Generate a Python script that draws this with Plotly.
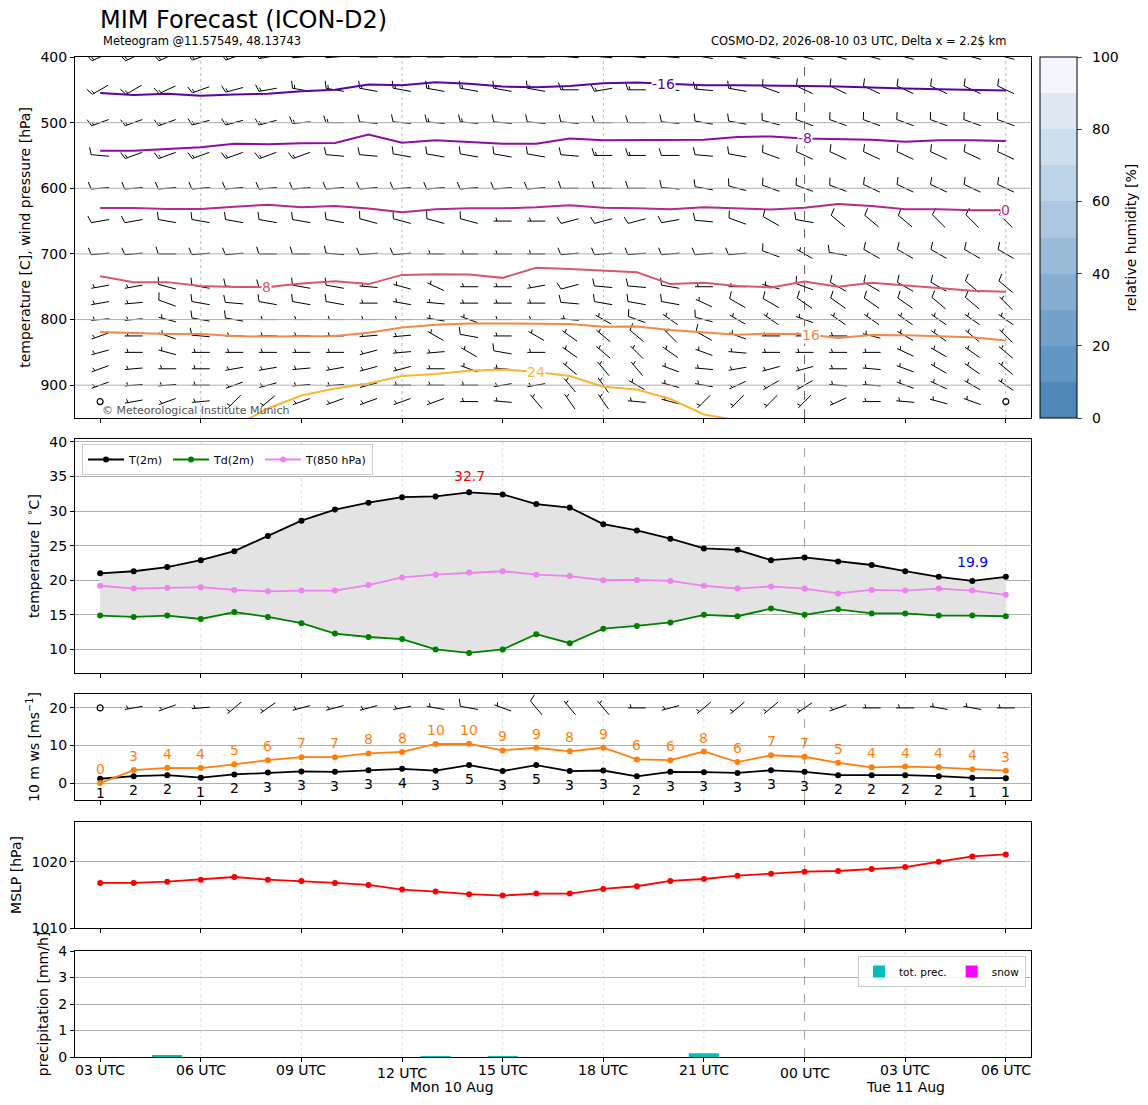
import numpy as np
import plotly.graph_objects as go

# ---------------- data ----------------
hours = list(range(28))  # 03 UTC Mon 10 Aug ... 06 UTC Tue 11 Aug
tick_hours = [0, 3, 6, 9, 12, 15, 18, 21, 24, 27]
tick_text = ["03 UTC", "06 UTC", "09 UTC", "12 UTC", "15 UTC", "18 UTC",
             "21 UTC", "00 UTC", "03 UTC", "06 UTC"]
major_tick_hours = [9, 21]
date_labels = ["Mon 10 Aug", "Tue 11 Aug"]
date_label_hours = [10.5, 24.0]

t2m = [21.0, 21.3, 21.9, 22.9, 24.2, 26.4, 28.6, 30.2, 31.2, 32.0, 32.1, 32.7, 32.4, 31.0,
       30.5, 28.1, 27.2, 26.0, 24.6, 24.4, 22.9, 23.3, 22.7, 22.2, 21.3, 20.5, 19.9, 20.5]
td2m = [14.9, 14.7, 14.9, 14.4, 15.4, 14.7, 13.8, 12.3, 11.8, 11.5, 10.0, 9.5, 10.0, 12.2,
        10.9, 13.0, 13.4, 13.9, 15.0, 14.8, 15.9, 15.0, 15.8, 15.2, 15.2, 14.9, 14.9, 14.8]
t850 = [19.2, 18.8, 18.9, 19.0, 18.6, 18.4, 18.5, 18.5, 19.3, 20.4, 20.8, 21.1, 21.3, 20.8,
        20.6, 20.0, 20.05, 19.9, 19.2, 18.8, 19.1, 18.8, 18.1, 18.6, 18.5, 18.8, 18.5, 17.9]

ws10 = [1.15, 1.85, 2.1, 1.45, 2.3, 2.8, 3.1, 3.0, 3.4, 3.8, 3.3, 4.8, 3.2, 4.8,
        3.2, 3.35, 1.8, 3.0, 2.9, 2.7, 3.4, 3.0, 2.1, 2.1, 2.1, 1.85, 1.4, 1.3]
gust10 = [0.0, 3.45, 4.05, 4.0, 5.0, 6.1, 6.9, 6.9, 7.9, 8.3, 10.4, 10.45, 8.7, 9.4,
          8.45, 9.4, 6.3, 6.1, 8.4, 5.6, 7.4, 7.0, 5.4, 4.2, 4.4, 4.2, 3.7, 3.3]
sfc_dir = [270, 260, 250, 265, 230, 235, 255, 255, 255, 260, 280, 280, 290, 320,
           320, 320, 270, 255, 230, 230, 230, 235, 250, 270, 270, 280, 280, 270]

mslp = [1016.8, 1016.8, 1017.0, 1017.3, 1017.7, 1017.3, 1017.1, 1016.8, 1016.5, 1015.8,
        1015.5, 1015.1, 1014.9, 1015.2, 1015.2, 1015.9, 1016.3, 1017.1, 1017.4, 1017.9,
        1018.2, 1018.5, 1018.6, 1018.9, 1019.2, 1020.0, 1020.8, 1021.1]

tot_prec = [0, 0, 0.04, 0, 0, 0, 0, 0, 0, 0, 0.03, 0, 0.03, 0,
            0, 0, 0, 0, 0.14, 0, 0, 0, 0, 0, 0, 0, 0, 0]
snow = [0, 0, 0, 0, 0, 0, 0, 0, 0, 0, 0, 0, 0, 0,
        0, 0, 0, 0, 0, 0, 0, 0, 0, 0, 0, 0, 0, 0]

# isotherm pressure levels [hPa] per hour
iso_levels = [-16, -8, 0, 8, 16, 24]
iso_m16 = [455, 458, 456, 459, 457, 456, 452, 450, 442, 443, 438.6, 440.6, 445, 446,
           444, 440, 439, 441, 443, 443, 443, 444, 445, 447, 448, 449, 450, 451]
iso_m8 = [543, 543, 540, 537.6, 532, 533, 531.5, 531, 518, 530.5, 527, 529, 532, 532,
          524, 527, 527, 526, 526, 522, 521, 524, 525, 526, 529, 527, 527, 528]
iso_0 = [630, 630, 631.5, 631.5, 628, 625, 629, 627, 631, 636.5, 632, 630.5, 630.5, 629,
         626, 629.5, 630.5, 632, 629, 631, 632.5, 629.5, 624, 627, 632, 632, 633.5, 633.5]
iso_8 = [734, 743, 743, 749, 750.5, 750.5, 745, 741.6, 746, 732, 731, 731.5, 736.5, 721,
         723, 726, 728, 746, 744, 749, 751, 742, 750, 744, 748, 753, 756, 757.5]
iso_16 = [819, 821, 822, 822, 825, 826, 825, 825, 820, 812, 808, 806, 806, 806,
          806.6, 811, 810.7, 816, 819, 823, 821.5, 822, 828, 823.6, 824, 825, 827, 832]
iso_24 = [None, None, None, None, 962.9, 935.5, 915.7, 905, 897.5, 886, 883, 878, 876, 880,
          886, 902.5, 906.6, 921, 944.7, 953.5, None, None, None, None, None, None, None, None]
iso_label_hours = [16.8, 21.0, 27.0, 4.96, 21.2, 13.0]

# wind barbs (direction deg, speed kt) on pressure levels
wind_levels = [400, 450, 500, 550, 600, 650, 700, 750, 775, 800, 825, 850, 875, 900, 925]
dir_400 = [245, 245, 245, 250, 250, 260, 265, 265, 270, 270, 270, 270, 270, 270,
           275, 275, 275, 275, 280, 280, 280, 285, 285, 285, 285, 285, 285, 285]
spd_400 = [20, 20, 20, 20, 20, 20, 20, 20, 20, 20, 20, 20, 20, 20,
           20, 20, 20, 20, 20, 20, 20, 20, 20, 20, 20, 20, 20, 20]
dir_450 = [240, 240, 245, 250, 255, 260, 280, 280, 280, 280, 280, 280, 280, 280,
           270, 260, 270, 275, 275, 280, 290, 295, 295, 295, 295, 295, 295, 295]
spd_450 = [15, 15, 15, 15, 15, 15, 15, 15, 15, 15, 15, 15, 15, 15,
           15, 15, 15, 15, 15, 15, 10, 10, 10, 10, 10, 10, 10, 10]
dir_500 = [250, 250, 250, 255, 255, 255, 265, 270, 275, 275, 275, 275, 275, 275,
           275, 270, 270, 275, 280, 280, 285, 290, 290, 290, 290, 290, 290, 290]
spd_500 = [15, 15, 15, 15, 15, 15, 15, 15, 10, 10, 15, 15, 10, 10,
           10, 10, 10, 10, 10, 10, 10, 10, 10, 10, 10, 10, 10, 10]
dir_550 = [275, 250, 250, 250, 250, 250, 250, 275, 275, 280, 280, 280, 280, 280,
           275, 270, 270, 270, 275, 280, 290, 295, 295, 295, 295, 295, 295, 295]
spd_550 = [10, 15, 15, 15, 15, 15, 15, 10, 10, 10, 10, 10, 10, 10,
           10, 15, 15, 10, 10, 10, 10, 10, 10, 10, 10, 10, 10, 10]
dir_600 = [265, 265, 265, 265, 265, 265, 265, 265, 265, 265, 265, 265, 265, 265,
           270, 270, 270, 275, 280, 285, 290, 290, 290, 295, 295, 295, 295, 295]
spd_600 = [10, 10, 10, 10, 10, 10, 10, 10, 10, 10, 10, 10, 10, 10,
           10, 10, 10, 10, 10, 10, 10, 10, 10, 10, 10, 10, 10, 10]
dir_650 = [260, 260, 280, 280, 280, 280, 280, 280, 285, 285, 285, 285, 270, 270,
           255, 255, 255, 260, 275, 290, 300, 280, 310, 310, 310, 315, 315, 315]
spd_650 = [10, 10, 10, 10, 10, 10, 10, 10, 10, 10, 10, 10, 5, 5,
           10, 10, 10, 10, 10, 10, 10, 10, 10, 10, 10, 10, 10, 10]
dir_700 = [265, 265, 270, 265, 265, 270, 270, 275, 265, 265, 270, 270, 270, 270,
           265, 265, 265, 265, 265, 265, 290, 300, 280, 300, 300, 300, 300, 300]
spd_700 = [10, 10, 10, 10, 10, 10, 10, 10, 10, 10, 5, 5, 5, 5,
           10, 10, 10, 10, 10, 10, 10, 5, 10, 10, 10, 10, 10, 10]
dir_750 = [260, 260, 285, 280, 275, 270, 280, 280, 275, 285, 295, 270, 270, 260,
           255, 275, 275, 280, 270, 270, 285, 290, 300, 300, 300, 300, 310, 310]
spd_750 = [5, 5, 10, 10, 10, 10, 10, 10, 5, 5, 5, 5, 5, 5,
           10, 10, 10, 10, 5, 5, 5, 10, 10, 10, 10, 10, 10, 10]
dir_775 = [260, 265, 290, 280, 275, 280, 280, 280, 270, 280, 275, 270, 270, 270,
           275, 280, 280, 280, 295, 300, 300, 305, 305, 305, 305, 310, 310, 315]
spd_775 = [5, 5, 10, 10, 10, 10, 10, 10, 5, 5, 5, 5, 5, 5,
           10, 10, 10, 10, 5, 10, 10, 10, 10, 10, 10, 10, 10, 5]
dir_800 = [265, 265, 285, 280, 280, 270, 270, 270, 270, 270, 280, 290, 270, 270,
           275, 300, 290, 305, 285, 300, 305, 290, 305, 305, 305, 305, 305, 305]
spd_800 = [5, 5, 5, 10, 10, 5, 5, 5, 5, 5, 5, 5, 5, 5,
           5, 5, 10, 5, 10, 5, 5, 5, 5, 5, 5, 5, 5, 5]
dir_825 = [250, 270, 290, 275, 270, 270, 270, 270, 265, 265, 300, 280, 270, 300,
           305, 310, 310, 315, 300, 290, 270, 270, 270, 285, 300, 305, 310, 315]
spd_825 = [5, 5, 5, 10, 5, 5, 5, 5, 5, 5, 5, 10, 5, 5,
           5, 5, 10, 5, 10, 5, 5, 5, 5, 5, 5, 5, 5, 5]
dir_850 = [255, 270, 285, 270, 270, 270, 270, 270, 255, 265, 265, 300, 280, 270,
           305, 310, 315, 305, 290, 275, 270, 270, 270, 270, 295, 300, 305, 310]
spd_850 = [5, 5, 5, 5, 5, 5, 5, 5, 5, 5, 5, 5, 10, 5,
           5, 5, 5, 5, 5, 5, 5, 5, 5, 5, 5, 5, 5, 5]
dir_875 = [250, 265, 270, 270, 260, 260, 265, 260, 255, 255, 270, 290, 275, 285,
           310, 320, 320, 290, 275, 260, 255, 255, 270, 275, 290, 300, 305, 310]
spd_875 = [5, 5, 5, 5, 5, 5, 5, 5, 5, 5, 5, 5, 5, 5,
           5, 5, 5, 5, 5, 5, 5, 5, 5, 5, 5, 5, 5, 5]
dir_900 = [250, 265, 265, 270, 250, 255, 265, 265, 255, 270, 270, 270, 260, 260,
           320, 325, 300, 285, 280, 245, 240, 240, 275, 275, 290, 295, 300, 305]
spd_900 = [5, 5, 5, 5, 5, 5, 5, 5, 5, 5, 5, 5, 5, 5,
           5, 5, 5, 5, 5, 5, 5, 5, 5, 5, 5, 5, 5, 5]
dir_925 = [270, 260, 250, 265, 225, 230, 250, 250, 250, 250, 250, 270, 275, 320,
           325, 325, 275, 285, 225, 225, 225, 225, 245, 270, 275, 285, 290, 270]
spd_925 = [0, 5, 5, 5, 5, 5, 5, 5, 5, 5, 5, 5, 5, 5,
           5, 5, 5, 5, 5, 5, 5, 5, 5, 5, 5, 5, 5, 0]

rh_ticks = [0, 20, 40, 60, 80, 100]
rh_band_colors = ["#4f87b9", "#6396c3", "#75a2ca", "#87aed1", "#9abbd8",
                  "#acc7df", "#bdd3e7", "#cedeed", "#e0e9f3", "#f3f7fb"]

# ---------------- layout geometry ----------------
W, H = 1148, 1105
ML, MR, MT, MB = 75, 117, 57, 48
PW, PH = W - ML - MR, H - MT - MB
XR = [-0.75, 27.75]
FONT = "DejaVu Sans"
FS = 14
panels_px = [(57, 418), (439, 673), (694, 800), (822, 928), (951, 1057)]


def dom(top, bot):
    return [(MT + PH - bot) / PH, (MT + PH - top) / PH]


def pyfrac(ypx):
    return (MT + PH - ypx) / PH


Y1 = [950, 400]
Y2 = [6.6, 40.4]
Y3 = [-4.5, 23.7]
Y4 = [1010, 1026]
Y5 = [0, 4]

SX = PW / (XR[1] - XR[0])
SY1 = (panels_px[0][1] - panels_px[0][0]) / (Y1[1] - Y1[0])   # negative (reversed)
SY3 = (panels_px[2][1] - panels_px[2][0]) / (Y3[1] - Y3[0])


def barbs(xc, yc, dirs, kts, sx, sy, L=18.0):
    xs, ys, cx, cy = [], [], [], []
    for x0, y0, d, k in zip(xc, yc, dirs, kts):
        s = 5 * np.around(k / 5.0)
        if s < 5:
            cx.append(x0)
            cy.append(y0)
            continue
        th = np.deg2rad(d)
        ux, uy = np.sin(th), np.cos(th)
        vx, vy = uy, -ux

        def P(a, b):
            return x0 + (a * ux + b * vx) / sx, y0 + (a * uy + b * vy) / sy

        p1, p2 = P(-L / 2, 0), P(L / 2, 0)
        xs += [p1[0], p2[0], None]
        ys += [p1[1], p2[1], None]
        nfull = int(s // 10)
        half = (s % 10) >= 5
        off = L / 2
        for _ in range(nfull):
            a, b = P(off, 0), P(off + 0.125 * L, 0.4 * L)
            xs += [a[0], b[0], None]
            ys += [a[1], b[1], None]
            off -= 0.125 * L
        if half:
            if nfull == 0:
                off -= 1.5 * 0.125 * L
            a, b = P(off, 0), P(off + 0.0625 * L, 0.2 * L)
            xs += [a[0], b[0], None]
            ys += [a[1], b[1], None]
    return xs, ys, cx, cy


fig = go.Figure()

# ---------------- panel 1: barbs + isotherms ----------------
wind_dirs = [dir_400, dir_450, dir_500, dir_550, dir_600, dir_650, dir_700, dir_750,
             dir_775, dir_800, dir_825, dir_850, dir_875, dir_900, dir_925]
wind_spds = [spd_400, spd_450, spd_500, spd_550, spd_600, spd_650, spd_700, spd_750,
             spd_775, spd_800, spd_825, spd_850, spd_875, spd_900, spd_925]
bx, by, cx, cy = [], [], [], []
for lev, dd, ss in zip(wind_levels, wind_dirs, wind_spds):
    a, b, c, e = barbs(hours, [lev] * len(hours), dd, ss, SX, SY1)
    bx += a; by += b; cx += c; cy += e
fig.add_trace(go.Scatter(x=bx, y=by, mode="lines", line=dict(color="black", width=1),
                         xaxis="x", yaxis="y", showlegend=False, hoverinfo="skip"))
fig.add_trace(go.Scatter(x=cx, y=cy, mode="markers", xaxis="x", yaxis="y",
                         marker=dict(symbol="circle-open", size=6, color="black",
                                     line=dict(width=1.2)),
                         showlegend=False, hoverinfo="skip"))

iso_colors = ["#5c01a6", "#8f0da4", "#b5298e", "#d9576b", "#f4884a", "#fdb42f"]
iso_data = [iso_m16, iso_m8, iso_0, iso_8, iso_16, iso_24]
for lev, col, pv in zip(iso_levels, iso_colors, iso_data):
    fig.add_trace(go.Scatter(x=hours, y=pv, mode="lines", line=dict(color=col, width=2),
                             xaxis="x", yaxis="y", showlegend=False, hoverinfo="skip",
                             connectgaps=False))

# colorbar for relative humidity
cs = []
for i, c in enumerate(rh_band_colors):
    cs.append([i / 10, c])
    cs.append([(i + 1) / 10, c])
d1 = dom(*panels_px[0])
fig.add_trace(go.Scatter(
    x=[0, 0], y=[2000, 2000], mode="markers", xaxis="x", yaxis="y",
    showlegend=False, hoverinfo="skip",
    marker=dict(color=[0, 100], cmin=0, cmax=100, colorscale=cs, showscale=True, size=1,
                colorbar=dict(x=(1040 - ML) / PW, xanchor="left", y=d1[0],
                              yanchor="bottom", len=d1[1] - d1[0],
                              lenmode="fraction", thickness=37, thicknessmode="pixels",
                              outlinewidth=1, outlinecolor="black", ticks="outside",
                              ticklen=5, tickvals=rh_ticks, showticklabels=False,
                              xpad=0, ypad=0))))

# ---------------- panel 2: temperatures ----------------
fig.add_trace(go.Scatter(x=hours, y=td2m, mode="lines", line=dict(width=0),
                         xaxis="x2", yaxis="y2", showlegend=False, hoverinfo="skip"))
fig.add_trace(go.Scatter(x=hours, y=t2m, mode="lines", line=dict(width=0), fill="tonexty",
                         fillcolor="#e3e3e3", xaxis="x2", yaxis="y2", showlegend=False,
                         hoverinfo="skip"))
for name, vals, col in [("T(2m)", t2m, "black"), ("Td(2m)", td2m, "green"),
                        ("T(850 hPa)", t850, "violet")]:
    fig.add_trace(go.Scatter(x=hours, y=vals, mode="lines+markers", name=name,
                             line=dict(color=col, width=1.8), marker=dict(color=col, size=6),
                             xaxis="x2", yaxis="y2", legend="legend"))

# ---------------- panel 3: wind ----------------
fig.add_trace(go.Scatter(x=hours, y=ws10, mode="lines+markers", line=dict(color="black", width=1.8),
                         marker=dict(color="black", size=6), xaxis="x3", yaxis="y3",
                         showlegend=False))
fig.add_trace(go.Scatter(x=hours, y=gust10, mode="lines+markers",
                         line=dict(color="#ff7f0e", width=1.8),
                         marker=dict(color="#ff7f0e", size=6), xaxis="x3", yaxis="y3",
                         showlegend=False))
sfc_kt = [v * 1.944 for v in ws10]
a, b, c, e = barbs(hours, [20] * len(hours), sfc_dir, sfc_kt, SX, SY3)
fig.add_trace(go.Scatter(x=a, y=b, mode="lines", line=dict(color="black", width=1),
                         xaxis="x3", yaxis="y3", showlegend=False, hoverinfo="skip"))
fig.add_trace(go.Scatter(x=c, y=e, mode="markers", xaxis="x3", yaxis="y3",
                         marker=dict(symbol="circle-open", size=6, color="black",
                                     line=dict(width=1.2)),
                         showlegend=False, hoverinfo="skip"))

# ---------------- panel 4: MSLP ----------------
fig.add_trace(go.Scatter(x=hours, y=mslp, mode="lines+markers", line=dict(color="red", width=1.8),
                         marker=dict(color="red", size=6), xaxis="x4", yaxis="y4",
                         showlegend=False))

# ---------------- panel 5: precipitation ----------------
fig.add_trace(go.Bar(x=hours, y=tot_prec, width=0.9, marker=dict(color="#00bfbf", line=dict(width=0)),
                     name="tot. prec.", xaxis="x5", yaxis="y5", legend="legend2"))
fig.add_trace(go.Bar(x=hours, y=snow, width=0.9, marker=dict(color="#ff00ff", line=dict(width=0)),
                     name="snow", xaxis="x5", yaxis="y5", legend="legend2"))

# ---------------- axes ----------------
ax_common = dict(showline=True, mirror=True, linecolor="black", linewidth=1, zeroline=False,
                 ticks="outside", ticklen=4, tickcolor="black",
                 tickfont=dict(family=FONT, size=FS, color="black"))
layout = dict(width=W, height=H, plot_bgcolor="white", paper_bgcolor="white",
              margin=dict(l=ML, r=MR, t=MT, b=MB, autoexpand=False),
              font=dict(family=FONT, size=FS, color="black"), barmode="overlay",
              hovermode=False)
for i in range(1, 6):
    k = "" if i == 1 else str(i)
    xa = dict(ax_common, domain=[0, 1], range=XR, anchor="y" + k, tickvals=tick_hours,
              showticklabels=False, showgrid=False)
    if i > 1:
        xa["matches"] = "x"
    layout["xaxis" + k] = xa

ytitles = ["temperature [C], wind pressure [hPa]", "temperature [ <sup>∘</sup>C]",
           "10 m ws [ms<sup>−1</sup>]", "MSLP [hPa]", "precipitation [mm/h]"]
yranges = [Y1, Y2, Y3, Y4, Y5]
yticks = [[400, 500, 600, 700, 800, 900], [10, 15, 20, 25, 30, 35, 40], [0, 10, 20],
          [1010, 1020], [0, 1, 2, 3, 4]]
for i in range(1, 6):
    k = "" if i == 1 else str(i)
    layout["yaxis" + k] = dict(ax_common, domain=dom(*panels_px[i - 1]), range=yranges[i - 1],
                               anchor="x" + k, tickvals=yticks[i - 1],
                               showgrid=(i > 1), gridcolor="#b0b0b0", gridwidth=1,
                               title=dict(text=ytitles[i - 1], standoff=6,
                                          font=dict(family=FONT, size=FS, color="black")))

layout["legend"] = dict(orientation="h", x=(82 - ML) / PW, xanchor="left",
                        y=dom(*panels_px[1])[1] - 5 / PH, yanchor="top", traceorder="normal",
                        bgcolor="rgba(255,255,255,0.85)", bordercolor="#cccccc", borderwidth=1,
                        font=dict(family=FONT, size=11, color="black"), itemwidth=36,
                        tracegroupgap=0)
layout["legend2"] = dict(orientation="h", x=(1026 - ML) / PW, xanchor="right",
                         y=dom(*panels_px[4])[1] - 5 / PH, yanchor="top", traceorder="normal",
                         bgcolor="rgba(255,255,255,0.85)", bordercolor="#cccccc", borderwidth=1,
                         font=dict(family=FONT, size=10.5, color="black"), itemwidth=30)

# ---------------- shapes (grid lines) ----------------
shapes = []
for p in yticks[0][1:]:
    shapes.append(dict(type="line", xref="x domain", yref="y", x0=0, x1=1, y0=p, y1=p,
                       line=dict(color="#b0b0b0", width=1), layer="above"))
for h in [3, 9, 15, 27]:
    shapes.append(dict(type="line", xref="x", yref="y domain", x0=h, x1=h, y0=0, y1=1,
                       line=dict(color="#aaaaaa", width=0.8, dash="dot"), layer="below"))
shapes.append(dict(type="line", xref="x", yref="y domain", x0=21, x1=21, y0=0, y1=1,
                   line=dict(color="#333333", width=0.8, dash="dash"), layer="above"))
for i in range(2, 6):
    for h in tick_hours[1:]:
        if h == 21:
            continue
        shapes.append(dict(type="line", xref="x%d" % i, yref="y%d domain" % i, x0=h, x1=h,
                           y0=0, y1=1, line=dict(color="#d6d6d6", width=0.8, dash="dot"),
                           layer="below"))
    shapes.append(dict(type="line", xref="x%d" % i, yref="y%d domain" % i, x0=21, x1=21,
                       y0=0, y1=1, line=dict(color="#888888", width=0.8, dash="dash"),
                       layer="below"))
layout["shapes"] = shapes

# ---------------- annotations ----------------
ann = []
ann.append(dict(text="MIM Forecast (ICON-D2)", x=(98 - ML) / PW, y=pyfrac(20), xref="paper",
                yref="paper", xanchor="left", yanchor="middle", showarrow=False,
                font=dict(family=FONT, size=24, color="black")))
ann.append(dict(text="Meteogram @11.57549, 48.13743", x=(101 - ML) / PW, y=pyfrac(41),
                xref="paper", yref="paper", xanchor="left", yanchor="middle", showarrow=False,
                font=dict(family=FONT, size=11.5, color="black")))
ann.append(dict(text="COSMO-D2, 2026-08-10 03 UTC, Delta x = 2.2$ km", x=(1008 - ML) / PW,
                y=pyfrac(41), xref="paper", yref="paper", xanchor="right", yanchor="middle",
                showarrow=False, font=dict(family=FONT, size=11.5, color="black")))
ann.append(dict(text="© Meteorological Institute Munich", x=(100 - ML) / PW, y=pyfrac(410),
                xref="paper", yref="paper", xanchor="left", yanchor="middle", showarrow=False,
                font=dict(family=FONT, size=11, color="#555555")))

# colorbar tick labels and title
for v in rh_ticks:
    ann.append(dict(text=str(v), x=(1090 - ML) / PW, y=d1[0] + v / 100 * (d1[1] - d1[0]),
                    xref="paper", yref="paper", xanchor="left", yanchor="middle",
                    showarrow=False, font=dict(family=FONT, size=FS, color="black")))
ann.append(dict(text="relative humidity [%]", x=(1130 - ML) / PW, y=(d1[0] + d1[1]) / 2,
                xref="paper", yref="paper", xanchor="center", yanchor="middle", textangle=-90,
                showarrow=False, font=dict(family=FONT, size=FS, color="black")))

# x tick labels (bottom)
for h, t in zip(tick_hours, tick_text):
    ypx = 1073 if h in major_tick_hours else 1070
    ann.append(dict(text=t, x=h, xref="x5", y=pyfrac(ypx), yref="paper", xanchor="center",
                    yanchor="middle", showarrow=False, font=dict(family=FONT, size=FS, color="black")))
for h, t in zip(date_label_hours, date_labels):
    ann.append(dict(text=t, x=h, xref="x5", y=pyfrac(1087), yref="paper", xanchor="center",
                    yanchor="middle", showarrow=False, font=dict(family=FONT, size=FS, color="black")))

# isotherm labels
for lev, col, pv, lh in zip(iso_levels, iso_colors, iso_data, iso_label_hours):
    xs_ = [h for h, v in zip(hours, pv) if v is not None]
    vs_ = [v for v in pv if v is not None]
    yv = float(np.interp(lh, xs_, vs_))
    ann.append(dict(text=str(lev), x=lh, y=yv, xref="x", yref="y", showarrow=False,
                    xanchor="center", yanchor="middle", bgcolor="white", borderpad=0,
                    font=dict(family=FONT, size=FS, color=col)))

# max / min temperature labels
imax = int(np.argmax(t2m))
imin = int(np.argmin(t2m))
ann.append(dict(text="%.1f" % t2m[imax], x=imax, y=t2m[imax], xref="x2", yref="y2",
                showarrow=False, yshift=16, font=dict(family=FONT, size=FS, color="red")))
ann.append(dict(text="%.1f" % t2m[imin], x=imin, y=t2m[imin], xref="x2", yref="y2",
                showarrow=False, yshift=19, font=dict(family=FONT, size=FS, color="blue")))

# wind speed labels
for h, v in zip(hours, gust10):
    ann.append(dict(text="%d" % int(np.floor(v + 0.5)), x=h, y=v, xref="x3", yref="y3",
                    showarrow=False, yshift=14, font=dict(family=FONT, size=FS, color="#ff7f0e")))
for h, v in zip(hours, ws10):
    ann.append(dict(text="%d" % int(np.floor(v + 0.5)), x=h, y=v, xref="x3", yref="y3",
                    showarrow=False, yshift=-14, font=dict(family=FONT, size=FS, color="black")))

layout["annotations"] = ann
fig.update_layout(**layout)
fig.write_html("out.html", config={"displayModeBar": False},
               post_script="document.body.style.margin='0px';")
